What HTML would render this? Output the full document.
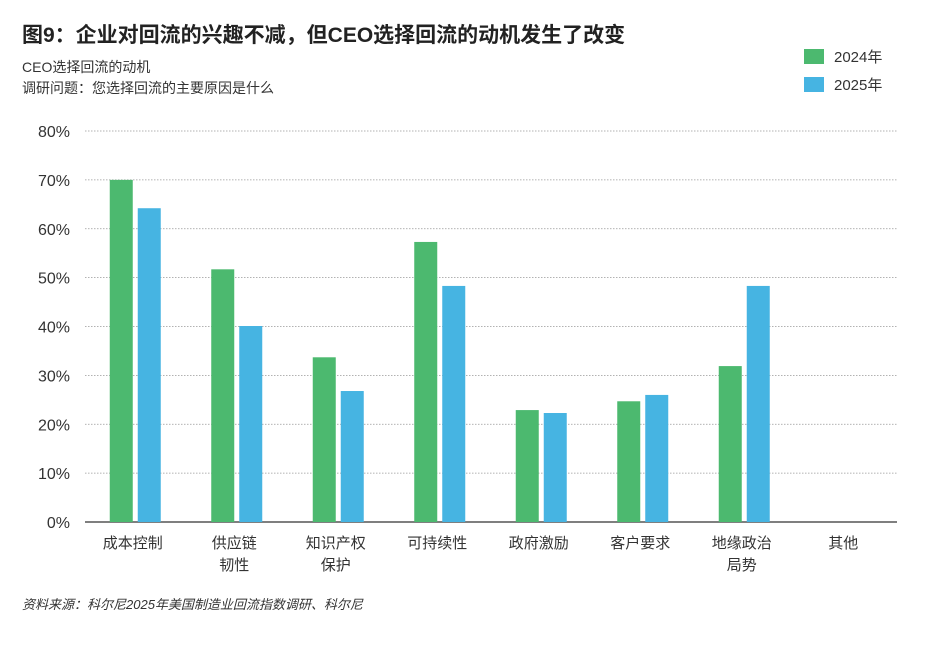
<!DOCTYPE html>
<html><head><meta charset="utf-8"><style>
body{margin:0;width:950px;height:649px;background:#fff;font-family:"Liberation Sans","Noto Sans CJK SC",sans-serif;overflow:hidden}
svg text{font-family:"Liberation Sans","Noto Sans CJK SC",sans-serif}
</style></head><body>
<svg id="c" width="950" height="649">
<text x="22" y="42" font-size="21" font-weight="bold" fill="#222">图9：企业对回流的兴趣不减，但CEO选择回流的动机发生了改变</text>
<text x="22" y="72" font-size="14" fill="#333">CEO选择回流的动机</text>
<text x="22" y="93" font-size="14" fill="#333">调研问题：您选择回流的主要原因是什么</text>
<g>
<rect x="804" y="49" width="20" height="15" fill="#4cb96f"/>
<text x="834" y="62" font-size="15" fill="#333">2024年</text>
<rect x="804" y="77" width="20" height="15" fill="#46b4e2"/>
<text x="834" y="90" font-size="15" fill="#333">2025年</text>
</g>
<g id="grid"></g><g id="bars"></g><g id="labels"></g>
<text x="22" y="609" font-size="13" font-style="italic" fill="#333">资料来源：科尔尼2025年美国制造业回流指数调研、科尔尼</text>
</svg>
<script>
const categories=[["成本控制"],["供应链","韧性"],["知识产权","保护"],["可持续性"],["政府激励"],["客户要求"],["地缘政治","局势"],["其他"]];
const values2024=[70,51.7,33.7,57.3,22.9,24.7,31.9,0];
const values2025=[64.2,40.1,26.8,48.3,22.3,26,48.3,0];
const yTicks=[0,10,20,30,40,50,60,70,80];
const NS="http://www.w3.org/2000/svg";
const x0=85,x1=897,yBase=522,yTop=131,vMax=80;
const y=v=>yBase-(v/vMax)*(yBase-yTop);
const step=(x1-x0)/categories.length;
const cx=i=>x0+step*(i+0.5);
function mk(tag,attrs,parent,txt){const e=document.createElementNS(NS,tag);for(const k in attrs)e.setAttribute(k,attrs[k]);if(txt!==undefined)e.textContent=txt;document.getElementById(parent).appendChild(e);return e;}
yTicks.forEach(t=>{
 if(t>0){const l=mk('line',{x1:x0,x2:x1,y1:y(t),y2:y(t),stroke:'#999','stroke-width':0.8,'stroke-dasharray':'1.5,1.5'},'grid');
 
 }
 const tx=mk('text',{x:70,y:y(t)+6,'font-size':16,fill:'#333','text-anchor':'end'},'labels',t+'%');
 
 
});
const ax=mk('line',{x1:x0,x2:x1,y1:yBase,y2:yBase,stroke:'#333','stroke-width':1.2},'grid');


categories.forEach((c,i)=>{
 const b1=mk('rect',{x:cx(i)-26,y:y(values2024[i]),width:23,height:yBase-y(values2024[i]),fill:'#4cb96f'},'bars');
 
 
 const b2=mk('rect',{x:cx(i)+2,y:y(values2025[i]),width:23,height:yBase-y(values2025[i]),fill:'#46b4e2'},'bars');
 
 
 c.forEach((s,j)=>{
  const t=mk('text',{x:cx(i)-3,y:548+j*22,'font-size':15,fill:'#333','text-anchor':'middle'},'labels',s);
  
  
 });
});
</script>
</body></html>
